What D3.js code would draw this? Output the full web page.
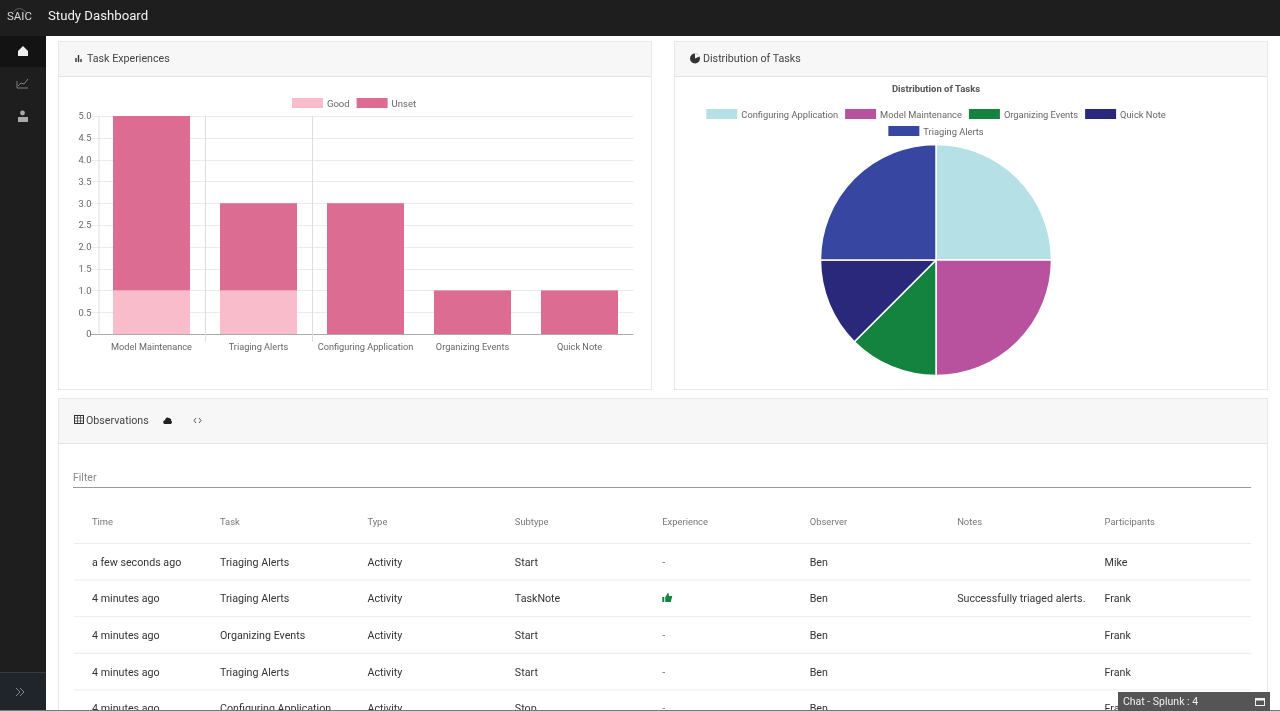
<!DOCTYPE html>
<html>
<head>
<meta charset="utf-8">
<title>Study Dashboard</title>
<script src="https://cdn.jsdelivr.net/npm/d3@7"></script>
<style>
html, body { margin: 0; padding: 0; background: #fff; overflow: hidden; }
svg { display: block; font-family: Roboto, "Liberation Sans", sans-serif; filter: blur(0.4px); }
</style>
</head>
<body>
<svg id="page" width="1280" height="711"></svg>
<script>
// bar chart data
var barTasks = ["Model Maintenance", "Triaging Alerts", "Configuring Application", "Organizing Events", "Quick Note"];
var goodValues = [1, 1, 0, 0, 0];
var unsetValues = [4, 2, 3, 1, 1];
var barSeries = ["Good", "Unset"];
var barTicks = [0, 0.5, 1, 1.5, 2, 2.5, 3, 3.5, 4, 4.5, 5];

// pie chart data
var pieTasks = ["Configuring Application", "Model Maintenance", "Organizing Events", "Quick Note", "Triaging Alerts"];
var pieValues = [2, 2, 1, 1, 2];
var pieColors = ["#b5e0e6", "#b8529f", "#14833f", "#29287a", "#3746a0"];

// table data
var columns = ["Time", "Task", "Type", "Subtype", "Experience", "Observer", "Notes", "Participants"];
var times = ["a few seconds ago", "4 minutes ago", "4 minutes ago", "4 minutes ago", "4 minutes ago"];
var tasks = ["Triaging Alerts", "Triaging Alerts", "Organizing Events", "Triaging Alerts", "Configuring Application"];
var types = ["Activity", "Activity", "Activity", "Activity", "Activity"];
var subtypes = ["Start", "TaskNote", "Start", "Start", "Stop"];
var experiences = ["-", "up", "-", "-", "-"];
var observers = ["Ben", "Ben", "Ben", "Ben", "Ben"];
var notes = ["", "Successfully triaged alerts.", "", "", ""];
var participants = ["Mike", "Frank", "Frank", "Frank", "Frank"];

var svg = d3.select("#page");

function rect(parent, x, y, w, h, fill, stroke) {
  return parent.append("rect").attr("x", x).attr("y", y).attr("width", w).attr("height", h)
    .attr("fill", fill).attr("stroke", stroke || "none");
}

function label(parent, x, y, str, size, color, anchor) {
  return parent.append("text").attr("x", x).attr("y", y).attr("font-size", size)
    .attr("fill", color).attr("text-anchor", anchor || "start").text(str);
}

function card(x, y, w, h, headH, title, titleX) {
  rect(svg, x + 0.5, y + 0.5, w, h, "#fff", "#e8e8e8");
  rect(svg, x + 1, y + 1, w - 1, headH, "#f7f7f7");
  svg.append("line").attr("x1", x).attr("x2", x + w).attr("y1", y + headH + 0.5).attr("y2", y + headH + 0.5)
    .attr("stroke", "#e3e3e3");
  label(svg, titleX, y + headH / 2 + 3, title, 10.7, "#444");
}

// chrome
rect(svg, 0, 0, 1280, 711, "#fff");
rect(svg, 0, 0, 1280, 36, "#1e1e1e");
rect(svg, 0, 36, 46, 675, "#1e1e1e");
rect(svg, 0, 36, 46, 31, "#131313");
rect(svg, 0, 672, 46, 39, "#20242b");
rect(svg, 0, 672, 46, 1, "#383c42");
label(svg, 7, 20, "SAIC", 10, "#d8d8d8").attr("textLength", 25).attr("lengthAdjust", "spacingAndGlyphs");
svg.append("path").attr("d", "M13 12 Q19 5 26 12").attr("fill", "none").attr("stroke", "#777").attr("stroke-width", 0.7);
label(svg, 48, 19.5, "Study Dashboard", 13.2, "#f2f2f2");

// sidebar icons
svg.append("path").attr("d", "M18 51 L23 46 L28 51 L28 56 L18 56 Z").attr("fill", "#eee");
svg.append("path").attr("d", "M17 81 V88 H28 M18 86 L21 83 L24 84 L28 79").attr("fill", "none").attr("stroke", "#8a8a8a").attr("stroke-width", 0.9);
svg.append("circle").attr("cx", 22.5).attr("cy", 113).attr("r", 2.4).attr("fill", "#aaa");
rect(svg, 18, 117, 10, 5, "#aaa");
svg.append("path").attr("d", "M16 688 L20 692 L16 696 M20 688 L24 692 L20 696").attr("fill", "none").attr("stroke", "#888").attr("stroke-width", 1);

// cards
card(58, 41, 593, 348, 35, "Task Experiences", 87);
card(674, 41, 593, 348, 35, "Distribution of Tasks", 703);
card(58, 398, 1209, 330, 45, "Observations", 86);

// card header icons
svg.append("path").attr("d", "M76 62 V58 M78.5 62 V55 M81 62 V59").attr("stroke", "#333").attr("stroke-width", 1.4);
svg.append("circle").attr("cx", 695).attr("cy", 58.5).attr("r", 5).attr("fill", "#333");
svg.append("path").attr("d", "M695 58.5 L695 53 L700.5 56 Z").attr("fill", "#f7f7f7");
var gridIcon = svg.append("g");
rect(gridIcon, 74.5, 415.5, 9, 8, "none", "#333");
gridIcon.append("path").attr("d", "M74.5 418 H83.5 M74.5 421 H83.5 M77.5 415.5 V423.5 M80.5 415.5 V423.5").attr("stroke", "#333").attr("stroke-width", 0.7);
svg.append("path").attr("d", "M164 424 Q162 421 165 420 Q166 416.5 169 418 Q172 419 171 420.5 Q173 422 171 424 Z").attr("fill", "#222");
svg.append("path").attr("d", "M196 418 L194 420.5 L196 423 M199 418 L201 420.5 L199 423").attr("fill", "none").attr("stroke", "#444").attr("stroke-width", 0.9);

// bar chart
var barX = d3.scaleBand().domain(barTasks).range([98, 633]).paddingInner(0.28).paddingOuter(0.14);
var barY = d3.scaleLinear().domain([0, 5]).range([334, 116]);
var barColor = d3.scaleOrdinal().domain(barSeries).range(["#f8bccb", "#dc6c92"]);
var chart = svg.append("g");

chart.append("g").selectAll("line").data(barTicks).join("line")
  .attr("x1", 90).attr("x2", 633.5)
  .attr("y1", function(d) { return Math.round(barY(d)) + 0.5; })
  .attr("y2", function(d) { return Math.round(barY(d)) + 0.5; })
  .attr("stroke", function(d) { return d === 0 ? "#aaa" : "#ebebeb"; });

// only the first two category separators show in the picture
chart.append("g").selectAll("line").data(barTasks.slice(0, 2)).join("line")
  .attr("x1", function(d) { return Math.floor(barX(d) + barX.bandwidth() + barX.step() * 0.14) + 0.5; })
  .attr("x2", function(d) { return Math.floor(barX(d) + barX.bandwidth() + barX.step() * 0.14) + 0.5; })
  .attr("y1", barY(5)).attr("y2", 342).attr("stroke", "#dedede");

var yAxis = d3.axisLeft(barY).tickValues(barTicks).tickSize(0).tickPadding(7)
  .tickFormat(function(d) { return d === 0 ? "0" : d.toFixed(1); });
var yG = chart.append("g").attr("transform", "translate(98.5,0)").call(yAxis);
yG.select(".domain").attr("stroke", "#dedede");
yG.selectAll("text").attr("font-size", 9.3).attr("fill", "#666").attr("font-family", "Roboto");

var xAxis = d3.axisBottom(barX).tickSize(0).tickPadding(9);
var xG = chart.append("g").attr("transform", "translate(0,334)").call(xAxis);
xG.select(".domain").remove();
xG.selectAll("text").attr("font-size", 9.2).attr("fill", "#666").attr("font-family", "Roboto");

var stackRows = barTasks.map(function(t, i) { return { task: t, Good: goodValues[i], Unset: unsetValues[i] }; });
var stacked = d3.stack().keys(barSeries)(stackRows);
chart.append("g").selectAll("g").data(stacked).join("g")
  .attr("fill", function(s) { return barColor(s.key); })
  .selectAll("rect").data(function(s) { return s; }).join("rect")
  .attr("x", function(d) { return barX(d.data.task); })
  .attr("width", barX.bandwidth())
  .attr("y", function(d) { return barY(d[1]); })
  .attr("height", function(d) { return barY(d[0]) - barY(d[1]); });

// centred legend, wraps onto a new row when it runs past maxW
function legend(parent, names, color, cx, top, maxW, rowH, size) {
  var rows = [[]], rowW = [0];
  var probe = parent.append("g");
  names.forEach(function(n) {
    var t = label(probe, 0, 0, n, size, "#666");
    var w = 31 + 4 + t.node().getComputedTextLength() + 7;
    if (rowW[rowW.length - 1] + w > maxW) {
      rows.push([]);
      rowW.push(0);
    }
    rows[rows.length - 1].push({ name: n, w: w });
    rowW[rowW.length - 1] += w;
  });
  probe.remove();
  rows.forEach(function(row, r) {
    var x = cx - (rowW[r] - 7) / 2;
    row.forEach(function(item) {
      rect(parent, x, top + r * rowH, 31, 10, color(item.name));
      label(parent, x + 35, top + r * rowH + 8.5, item.name, size, "#666");
      x += item.w;
    });
  });
}

legend(svg.append("g"), barSeries, barColor, 354, 98, 300, 17, 9.5);

// pie chart
var pieColor = d3.scaleOrdinal().domain(pieTasks).range(pieColors);
var pie = d3.pie().sort(null).value(function(d, i) { return pieValues[i]; });
var arc = d3.arc().innerRadius(0).outerRadius(115.5);
svg.append("g").attr("transform", "translate(936,260)")
  .selectAll("path").data(pie(pieTasks)).join("path")
  .attr("d", arc)
  .attr("fill", function(d) { return pieColor(d.data); })
  .attr("stroke", "#fff").attr("stroke-width", 1.5);

label(svg, 936, 92, "Distribution of Tasks", 9.5, "#555", "middle").attr("font-weight", 700);
legend(svg.append("g"), pieTasks, pieColor, 936, 109, 480, 17, 9.3);

// table, Time is narrower than the other columns
var colX = d3.scaleBand().domain(columns.slice(1)).range([220, 1252]);
var cellX = function(name) { return name === "Time" ? 92 : colX(name); };
var rowY = d3.scaleBand().domain(d3.range(times.length)).range([543.5, 726.5]);
var cols = [times, tasks, types, subtypes, experiences, observers, notes, participants];
var table = svg.append("g");

label(table, 73, 481, "Filter", 10.5, "#888");
table.append("line").attr("x1", 73).attr("x2", 1251).attr("y1", 487.5).attr("y2", 487.5).attr("stroke", "#999");

columns.forEach(function(c) {
  label(table, cellX(c), 525, c, 9.4, "#777");
});

table.append("g").selectAll("line").data(d3.range(times.length)).join("line")
  .attr("x1", 74).attr("x2", 1251)
  .attr("y1", function(d) { return rowY(d); })
  .attr("y2", function(d) { return rowY(d); })
  .attr("stroke", "#ececec");

cols.forEach(function(values, c) {
  values.forEach(function(v, r) {
    var x = cellX(columns[c]);
    var y = rowY(r) + rowY.bandwidth() / 2 + 4;
    if (v === "up") {
      table.append("path")
        .attr("transform", "translate(" + x + "," + (y - 9.5) + ")")
        .attr("d", "M0 4 H2 V9 H0 Z M3 4 L5.5 0 Q7 0 6.5 3 H10 L8.5 9 H3 Z")
        .attr("fill", "#14833f");
    } else {
      label(table, x, y, v, 10.7, c === 4 ? "#777" : "#333");
    }
  });
});

// chat tab and bottom edge
rect(svg, 0, 710, 1280, 1, "#777");
rect(svg, 1118, 692, 152, 19, "#555");
label(svg, 1123, 705, "Chat - Splunk : 4", 10.5, "#f0f0f0");
rect(svg, 1255.5, 698.5, 9, 7, "none", "#f0f0f0");
rect(svg, 1255.5, 698.5, 9, 2, "#f0f0f0");
</script>
</body>
</html>
